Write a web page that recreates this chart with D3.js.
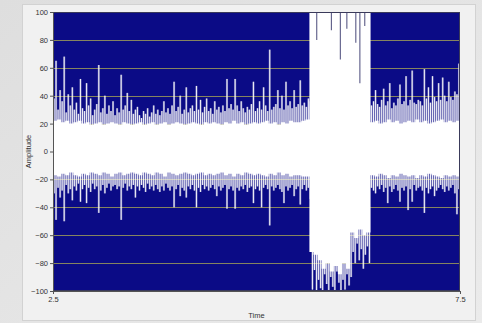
<!DOCTYPE html>
<html>
<head>
<meta charset="utf-8">
<script src="https://cdn.jsdelivr.net/npm/d3@7/dist/d3.min.js"></script>
<style>
  html, body { margin: 0; padding: 0; background: #e2e2e2; }
  svg { display: block; }
</style>
</head>
<body>
<div id="chart"></div>
<script>
// ---- data ----
const timeStart = 2.5;
const timeEnd = 7.5;
const binStep = 0.025;   // one max/min pair per bin
const coreStep = 0.05;   // solid white band around zero
const yTicks = [-100, -80, -60, -40, -20, 0, 20, 40, 60, 80, 100];
const gridLevels = [-80, -60, -40, -20, 20, 40, 60, 80];
const xTicks = [2.5, 7.5];

// column maxima (Amplitude), one per 0.025 s bin
const peakHigh = [
  38, 65, 30, 44, 36, 68, 28, 41, 33, 46,
  30, 35, 27, 52, 31, 29, 49, 33, 38, 26,
  30, 34, 62, 28, 31, 40, 27, 33, 29, 36,
  26, 31, 28, 55, 30, 33, 42, 29, 37, 27,
  30, 32, 26, 24, 29, 27, 31, 25, 28, 33,
  27, 30, 26, 29, 36, 28, 31, 27, 33, 50,
  29, 32, 40, 27, 30, 46, 28, 31, 33, 29,
  47, 30, 37, 28, 32, 38, 29, 31, 27, 36,
  30, 32, 28, 33, 29, 52, 31, 34, 30, 52,
  33, 29, 36, 31, 28, 32, 30, 34, 50, 29,
  31, 36, 30, 46, 33, 29, 73, 30, 32, 34,
  44, 31, 40, 30, 50, 33, 36, 31, 44, 32,
  34, 51, 33, 35, 32, 38, 36, 100, 100, 100,
  100, 100, 100, 100, 100, 100, 100, 100, 100, 100,
  100, 100, 100, 100, 100, 100, 100, 100, 100, 100,
  100, 100, 100, 100, 100, 100, 33, 36, 44, 34,
  32, 37, 45, 33, 36, 49, 31, 35, 33, 38,
  48, 34, 36, 54, 33, 37, 58, 35, 34, 37,
  36, 33, 59, 38, 46, 35, 54, 39, 36, 49,
  37, 53, 40, 36, 50, 39, 37, 43, 41, 63
];

// column minima, same bins
const peakLow = [
  -30, -49, -26, -33, -28, -50, -24, -30, -27, -35,
  -25, -28, -23, -36, -27, -24, -37, -26, -29, -23,
  -27, -25, -44, -28, -24, -30, -26, -23, -28, -25,
  -24, -27, -25, -49, -26, -23, -28, -25, -27, -24,
  -33, -25, -28, -24, -26, -29, -23, -27, -25, -28,
  -24, -27, -29, -25, -28, -23, -26, -28, -25, -40,
  -27, -24, -32, -26, -28, -33, -25, -27, -24, -28,
  -40, -26, -29, -24, -27, -25, -28, -26, -24, -27,
  -32, -25, -28, -26, -24, -41, -27, -25, -28, -41,
  -26, -28, -25, -27, -24, -29, -26, -25, -37, -27,
  -25, -28, -40, -26, -24, -27, -53, -25, -28, -26,
  -24, -27, -29, -37, -25, -28, -26, -24, -32, -27,
  -25, -38, -27, -24, -28, -26, -34, -99, -85, -100,
  -92, -98, -100, -88, -95, -100, -90, -97, -100, -86,
  -94, -100, -92, -99, -88, -96, -90, -72, -80, -66,
  -78, -70, -84, -74, -68, -80, -26, -28, -30, -25,
  -27, -24, -29, -26, -37, -25, -29, -27, -24, -28,
  -36, -26, -28, -25, -42, -27, -36, -24, -28, -26,
  -25, -28, -44, -26, -30, -27, -25, -32, -28, -26,
  -24, -27, -29, -25, -28, -26, -24, -30, -45, -27
];

// solid band edges, one per 0.05 s
const coreHigh = [
  22, 23, 21, 22, 20, 21, 22, 20, 21, 19,
  20, 21, 19, 20, 21, 20, 19, 21, 20, 19,
  20, 21, 19, 20, 21, 19, 20, 21, 19, 20,
  21, 20, 19, 20, 21, 20, 19, 21, 20, 21,
  20, 19, 21, 20, 22, 20, 21, 19, 20, 21,
  20, 21, 22, 20, 21, 19, 21, 20, 22, 21,
  21, 22, 23, 100, 100, 100, 100, 100, 100, 100,
  100, 100, 100, 100, 100, 100, 100, 100, 21, 22,
  20, 21, 23, 21, 22, 20, 21, 22, 21, 23,
  21, 22, 20, 21, 22, 23, 21, 22, 21, 22,
  22
];
const coreLow = [
  -17, -18, -16, -17, -15, -17, -18, -16, -17, -15,
  -16, -17, -15, -16, -18, -16, -15, -17, -16, -15,
  -16, -17, -15, -16, -17, -15, -16, -18, -15, -16,
  -17, -16, -15, -16, -17, -16, -15, -17, -16, -17,
  -16, -15, -17, -16, -18, -16, -17, -15, -16, -17,
  -16, -17, -18, -16, -17, -15, -17, -16, -18, -17,
  -17, -18, -18, -72, -74, -78, -84, -80, -86, -82,
  -88, -80, -84, -58, -62, -56, -60, -58, -17, -18,
  -16, -17, -19, -17, -18, -16, -17, -18, -17, -19,
  -17, -18, -16, -17, -18, -19, -17, -18, -17, -18,
  -18
];

// columns inside the burst whose maximum stayed below full scale
const gapTimes = [5.74, 5.92, 6.03, 6.11, 6.22, 6.27, 6.33];
const gapLevels = [80, 87, 66, 88, 78, 49, 90];

// ---- layout ----
const width = 482;
const height = 323;
const plot = { left: 53, top: 12, right: 460, bottom: 291 };
const font = '"Liberation Sans", Arial, sans-serif';

const svg = d3.select('#chart')
  .append('svg')
  .attr('width', width)
  .attr('height', height);

// Background and panel
const defs = svg.append('defs');
const bg = defs.append('linearGradient')
  .attr('id', 'bg')
  .attr('x1', 0).attr('y1', 0).attr('x2', 1).attr('y2', 1);
bg.append('stop').attr('offset', '0%').attr('stop-color', '#dedede');
bg.append('stop').attr('offset', '100%').attr('stop-color', '#ebebeb');

svg.append('rect')
  .attr('width', width)
  .attr('height', height)
  .attr('fill', 'url(#bg)');

svg.append('rect')
  .attr('x', 22.5).attr('y', 4.5)
  .attr('width', 453).attr('height', 316)
  .attr('fill', '#f1f1f1')
  .attr('stroke', '#d2d2d2');

defs.append('clipPath')
  .attr('id', 'plot-clip')
  .append('rect')
  .attr('x', plot.left).attr('y', plot.top)
  .attr('width', plot.right - plot.left)
  .attr('height', plot.bottom - plot.top);

// Scales
const x = d3.scaleLinear().domain([timeStart, timeEnd]).range([plot.left, plot.right]);
const y = d3.scaleLinear().domain([-100, 100]).range([plot.bottom, plot.top]);

const g = svg.append('g').attr('clip-path', 'url(#plot-clip)');

g.append('rect')
  .attr('x', plot.left).attr('y', plot.top)
  .attr('width', plot.right - plot.left)
  .attr('height', plot.bottom - plot.top)
  .attr('fill', '#0b0b86');

// Grid
g.selectAll('.grid')
  .data(gridLevels)
  .enter()
  .append('line')
  .attr('class', 'grid')
  .attr('x1', plot.left).attr('x2', plot.right)
  .attr('y1', d => Math.round(y(d)) + 0.5)
  .attr('y2', d => Math.round(y(d)) + 0.5)
  .attr('stroke', '#86845f')
  .attr('stroke-width', 1);

// Spikes: one line per bin, from min to max
const bins = peakHigh.map((hi, i) => ({
  t: timeStart + (i + 0.5) * binStep,
  hi: hi,
  lo: peakLow[i]
}));

// soft halo so neighbouring bins merge into a dense fringe
g.selectAll('.spike-halo')
  .data(bins)
  .enter()
  .append('line')
  .attr('class', 'spike-halo')
  .attr('x1', d => x(d.t)).attr('x2', d => x(d.t))
  .attr('y1', d => y(d.lo)).attr('y2', d => y(d.hi))
  .attr('stroke', '#e6e6f2')
  .attr('stroke-opacity', 0.45)
  .attr('stroke-width', 2.1);

g.selectAll('.spike')
  .data(bins)
  .enter()
  .append('line')
  .attr('class', 'spike')
  .attr('x1', d => x(d.t)).attr('x2', d => x(d.t))
  .attr('y1', d => y(d.lo)).attr('y2', d => y(d.hi))
  .attr('stroke', '#ffffff')
  .attr('stroke-opacity', 0.9)
  .attr('stroke-width', 1);

// Solid band
const core = coreHigh.map((hi, k) => ({
  t: timeStart + k * coreStep,
  hi: hi,
  lo: coreLow[k]
}));

g.append('path')
  .datum(core)
  .attr('d', d3.area()
    .x(d => x(d.t))
    .y0(d => y(d.lo))
    .y1(d => y(d.hi))
    .curve(d3.curveStepAfter))
  .attr('fill', '#ffffff');

// Burst columns that did not reach full scale
g.selectAll('.gap')
  .data(gapTimes.map((t, i) => ({ t: t, v: gapLevels[i] })))
  .enter()
  .append('line')
  .attr('class', 'gap')
  .attr('x1', d => x(d.t)).attr('x2', d => x(d.t))
  .attr('y1', y(100)).attr('y2', d => y(d.v))
  .attr('stroke', '#5a5a86')
  .attr('stroke-width', 1.1);

// Frame
svg.append('rect')
  .attr('x', plot.left + 0.5).attr('y', plot.top + 0.5)
  .attr('width', plot.right - plot.left - 1)
  .attr('height', plot.bottom - plot.top - 1)
  .attr('fill', 'none')
  .attr('stroke', '#3a3a5a')
  .attr('stroke-width', 1);

// Axes
const yAxis = svg.append('g')
  .attr('transform', `translate(${plot.left},0)`)
  .call(d3.axisLeft(y).tickValues(yTicks).tickSize(3).tickPadding(2));

const xAxis = svg.append('g')
  .attr('transform', `translate(0,${plot.bottom})`)
  .call(d3.axisBottom(x).tickValues(xTicks).tickFormat(d3.format('.1f')).tickSize(3).tickPadding(3));

[yAxis, xAxis].forEach(ax => {
  ax.select('.domain').attr('stroke', '#555');
  ax.selectAll('.tick line').attr('stroke', '#555');
  ax.selectAll('.tick text')
    .attr('fill', '#333')
    .style('font-family', font)
    .style('font-size', '7.5px');
});

// Axis titles
svg.append('text')
  .attr('transform', `translate(31,${(plot.top + plot.bottom) / 2}) rotate(-90)`)
  .attr('text-anchor', 'middle')
  .style('font-family', font)
  .style('font-size', '7.5px')
  .attr('fill', '#333')
  .text('Amplitude');

svg.append('text')
  .attr('x', (plot.left + plot.right) / 2)
  .attr('y', 318)
  .attr('text-anchor', 'middle')
  .style('font-family', font)
  .style('font-size', '7.5px')
  .attr('fill', '#333')
  .text('Time');
</script>
</body>
</html>
